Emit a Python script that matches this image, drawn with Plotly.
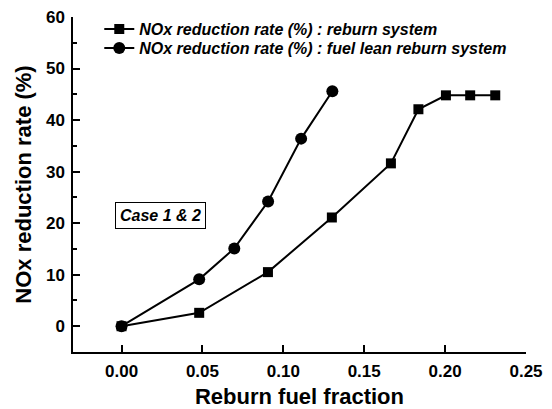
import plotly.graph_objects as go

reburn_x = [0.0, 0.048, 0.0905, 0.130, 0.1665, 0.1835, 0.2005, 0.2155, 0.231]
reburn_y = [0.0, 2.6, 10.5, 21.1, 31.6, 42.1, 44.8, 44.8, 44.8]
lean_x = [0.0, 0.048, 0.0697, 0.0906, 0.111, 0.1303]
lean_y = [0.0, 9.1, 15.1, 24.2, 36.4, 45.6]

names = ["NOx reduction rate (%) : reburn system",
         "NOx reduction rate (%) : fuel lean reburn system"]
x_ticks = [0, 0.05, 0.1, 0.15, 0.2, 0.25]
x_ticktext = ["0.00", "0.05", "0.10", "0.15", "0.20", "0.25"]
y_ticks = [0, 10, 20, 30, 40, 50, 60]
y_minor = [-5, 5, 15, 25, 35, 45, 55]

FONT = "Arial, Liberation Sans, sans-serif"
LEG_FONT = dict(size=16, family=FONT, weight="bold", style="italic")

fig = go.Figure()
fig.add_trace(go.Scatter(x=reburn_x, y=reburn_y, mode="lines+markers", name=names[0],
                         line=dict(color="black", width=2), legend="legend",
                         marker=dict(symbol="square", size=10, color="black")))
fig.add_trace(go.Scatter(x=lean_x, y=lean_y, mode="lines+markers", name=names[1],
                         line=dict(color="black", width=2), legend="legend2",
                         marker=dict(symbol="circle", size=12, color="black")))

fig.update_layout(
    width=552, height=409,
    margin=dict(l=73, r=26, t=17, b=57),
    paper_bgcolor="white", plot_bgcolor="white",
    font=dict(family=FONT, color="black"),
    showlegend=True,
    legend=dict(x=0.058, y=0.964, xanchor="left", yanchor="middle",
                bgcolor="rgba(0,0,0,0)", font=LEG_FONT, itemwidth=30),
    legend2=dict(x=0.058, y=0.907, xanchor="left", yanchor="middle",
                 bgcolor="rgba(0,0,0,0)", font=LEG_FONT, itemwidth=30),
    annotations=[dict(text="Case 1 & 2", x=0.024, y=21.4, xref="x", yref="y",
                      xanchor="center", yanchor="middle", showarrow=False,
                      font=dict(size=16, family=FONT, weight="bold", style="italic"),
                      bordercolor="black", borderwidth=1, borderpad=4,
                      bgcolor="white")],
)
fig.update_xaxes(range=[-0.03, 0.25], tickvals=x_ticks, ticktext=x_ticktext,
                 showline=True, linecolor="black", linewidth=1.5, mirror=False,
                 ticks="inside", ticklen=7, tickwidth=1.5, tickcolor="black",
                 showgrid=False, zeroline=False, automargin=False,
                 ticklabelstandoff=3,
                 tickfont=dict(size=17, family=FONT, weight="bold"),
                 title=dict(text="Reburn fuel fraction", standoff=10,
                            font=dict(size=22, family=FONT, weight="bold")))
fig.update_yaxes(range=[-5, 60], tickvals=y_ticks,
                 showline=True, linecolor="black", linewidth=1.5, mirror=False,
                 ticks="inside", ticklen=7, tickwidth=1.5, tickcolor="black",
                 minor=dict(tickvals=y_minor, ticks="inside", ticklen=4,
                            tickwidth=1.5, tickcolor="black"),
                 showgrid=False, zeroline=False, automargin=False,
                 ticklabelstandoff=3,
                 tickfont=dict(size=17, family=FONT, weight="bold"),
                 title=dict(text="NOx reduction rate (%)", standoff=8,
                            font=dict(size=22, family=FONT, weight="bold")))

fig.write_html("out.html")
